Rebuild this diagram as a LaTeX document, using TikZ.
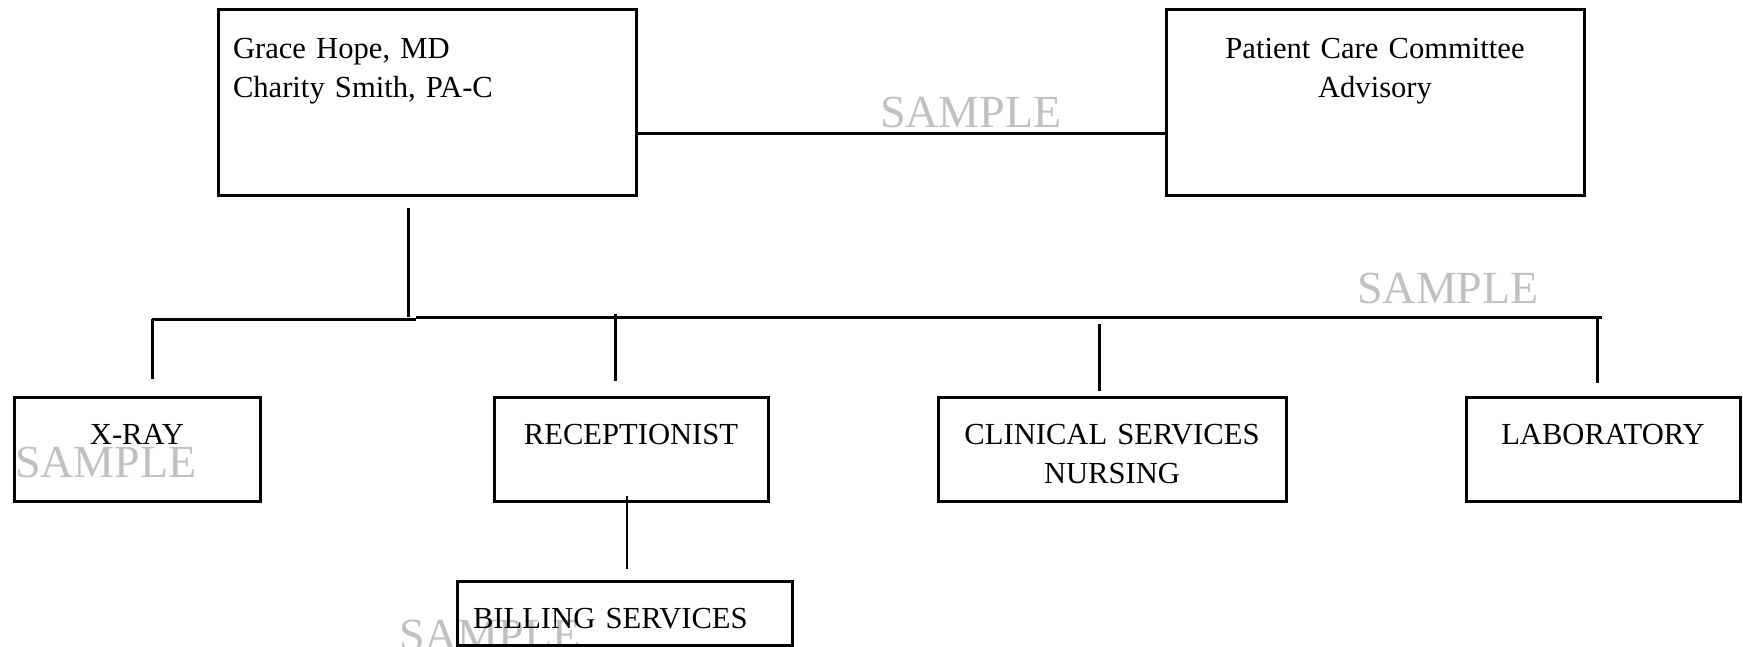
\documentclass[tikz,border=0pt]{standalone}
\usepackage{fontspec}
\setmainfont{Liberation Serif}
\definecolor{wmgray}{RGB}{192,192,192}

\begin{document}
\begin{tikzpicture}[x=1pt,y=-1pt]
        \tikzstyle{unit} = [rectangle, draw=black, line width=3pt, inner sep=0pt, align=center, font=\fontsize{30.6}{39}\selectfont]
        \tikzstyle{head} = [unit, text height=49pt, text depth=137pt]
        \tikzstyle{dept} = [unit, text height=47pt, text depth=57pt]
        \tikzstyle{link} = [line width=3pt]
        \tikzstyle{wmark} = [text=wmgray, inner sep=0pt, anchor=base west, font=\fontsize{46}{46}\selectfont]

        \useasboundingbox (0,0) rectangle (1743,646);

        % watermarks
        \node (wmA) [wmark] at (880,127) {SAMPLE};
        \node (wmB) [wmark] at (1357,303) {SAMPLE};
        \node (wmC) [wmark] at (15,477) {SAMPLE};
        \node (wmD) [wmark] at (399,650) {SAMPLE};

        \node (lead) [head, text width=388pt, inner xsep=15pt, align=left] at (427,102) {Grace Hope, MD\\Charity Smith, PA-C};
        \node (patient) [head, text width=418pt] at (1375,102) {Patient Care Committee\\Advisory};

        \node (xray) [dept, text width=246pt] at (137,449) {X-RAY};
        \node (recep) [dept, text width=274pt] at (631,449) {RECEPTIONIST};
        \node (clinical) [dept, text width=348pt] at (1112,449) {CLINICAL SERVICES\\NURSING};
        \node (lab) [dept, text width=274pt] at (1603,449) {LABORATORY};
        \node (billing) [unit, text width=303pt, inner xsep=16pt, align=left, text height=47pt, text depth=17pt] at (624.5,613) {BILLING SERVICES};

        \coordinate (trunk) at (408,317);
        \coordinate (busW) at (152,319);
        \coordinate (busJ) at (416,317);
        \coordinate (busE) at (1602,317);

        \draw [link] ([yshift=-31pt]lead.east) -- ([yshift=-31pt]patient.west);
        \draw [link] ([xshift=-19pt,yshift=-11pt]lead.south) -- (trunk);
        \draw [link] (busW) -- (busJ |- busW);
        \draw [link] (busJ) -- (busE);
        \draw [link] (busW) -- ([xshift=15pt,yshift=17pt]xray.north);
        \draw [link] ([xshift=-16pt,yshift=15pt]recep.north) -- ++(0,-67);
        \draw [link] ([xshift=-13pt,yshift=5pt]clinical.north) -- ++(0,-67);
        \draw [link] ([xshift=-6pt,yshift=13pt]lab.north) -- ++(0,-66);
        \draw [line width=2.2pt] ([xshift=-4pt,yshift=7pt]recep.south) -- ([xshift=2.5pt,yshift=11pt]billing.north);
\end{tikzpicture}
\end{document}
